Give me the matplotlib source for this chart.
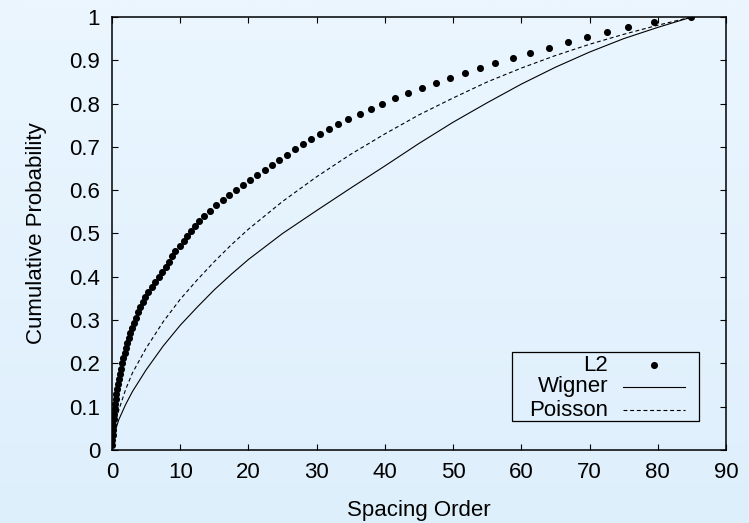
import matplotlib
matplotlib.use("Agg")
import matplotlib.pyplot as plt
import numpy as np
from matplotlib.patches import Rectangle
from matplotlib.ticker import FuncFormatter

plt.rcParams["font.family"] = ["Liberation Sans", "DejaVu Sans"]

# empirical CDF of the L2 spacing orders
l2_order = [
    0.00, 0.05, 0.09, 0.13, 0.18, 0.25, 0.32, 0.38, 0.45, 0.52,
    0.60, 0.75, 0.90, 1.05, 1.20, 1.35, 1.50, 1.65, 1.85, 2.05,
    2.25, 2.45, 2.70, 2.95, 3.20, 3.50, 3.80, 4.15, 4.50, 4.90,
    5.35, 5.85, 6.35, 6.90, 7.40, 7.90, 8.40, 8.80, 9.30, 9.90,
    10.5, 11.0, 11.6, 12.2, 12.8, 13.5, 14.3, 15.2, 16.2, 17.2,
    18.2, 19.25, 20.3, 21.3, 22.4, 23.4, 24.5, 25.6, 26.8, 28.0,
    29.2, 30.5, 31.8, 33.2, 34.6, 36.3, 37.9, 39.6, 41.5, 43.4,
    45.4, 47.5, 49.6, 51.7, 53.9, 56.2, 58.8, 61.3, 64.0, 66.8,
    69.6, 72.6, 75.6, 79.5, 84.9,
]
l2_prob = [
    0.0118, 0.0235, 0.0353, 0.0471, 0.0588, 0.0706, 0.0824, 0.0941, 0.1059, 0.1176,
    0.1294, 0.1412, 0.1529, 0.1647, 0.1765, 0.1882, 0.2000, 0.2118, 0.2235, 0.2353,
    0.2471, 0.2588, 0.2706, 0.2824, 0.2941, 0.3059, 0.3176, 0.3294, 0.3412, 0.3529,
    0.3647, 0.3765, 0.3882, 0.4000, 0.4118, 0.4235, 0.4353, 0.4471, 0.4588, 0.4706,
    0.4824, 0.4941, 0.5059, 0.5176, 0.5294, 0.5412, 0.5529, 0.5647, 0.5765, 0.5882,
    0.6000, 0.6118, 0.6235, 0.6353, 0.6471, 0.6588, 0.6706, 0.6824, 0.6941, 0.7059,
    0.7176, 0.7294, 0.7412, 0.7529, 0.7647, 0.7765, 0.7882, 0.8000, 0.8118, 0.8235,
    0.8353, 0.8471, 0.8588, 0.8706, 0.8824, 0.8941, 0.9059, 0.9176, 0.9294, 0.9412,
    0.9529, 0.9647, 0.9765, 0.9882, 1.0000,
]

# reference curves
curve_x = [0, 0.5, 1, 2, 3, 5, 7.5, 10, 12.5, 15, 17.5, 20, 25, 30, 35, 40, 45, 50,
           55, 60, 65, 70, 75, 80, 85]
wigner = [0.01, 0.045, 0.07, 0.105, 0.135, 0.185, 0.24, 0.288, 0.33, 0.37, 0.406, 0.44,
          0.50, 0.553, 0.605, 0.656, 0.708, 0.757, 0.802, 0.845, 0.884, 0.919, 0.95,
          0.976, 1.0]
poisson = [0.01, 0.065, 0.092, 0.14, 0.178, 0.235, 0.296, 0.348, 0.393, 0.435, 0.474,
           0.51, 0.574, 0.631, 0.683, 0.73, 0.774, 0.813, 0.85, 0.882, 0.911, 0.937,
           0.96, 0.981, 1.0]

x_ticks = list(range(0, 91, 10))
y_ticks = [i / 10 for i in range(11)]

FS = 16

fig = plt.figure(figsize=(7.49, 5.23), dpi=100)

# soft vertical gradient behind everything
bg = fig.add_axes([0, 0, 1, 1], zorder=-10)
top = np.array([235, 246, 255]) / 255
bot = np.array([222, 239, 252]) / 255
t = np.linspace(0, 1, 256)[:, None]
grad = top * (1 - t) + bot * t
bg.imshow(grad[:, None, :].repeat(2, axis=1), aspect="auto", extent=[0, 1, 0, 1])
bg.set_axis_off()

ax = fig.add_axes([0.1495, 0.1396, 0.8198, 0.8279])
ax.set_facecolor("none")

ax.plot(l2_order, l2_prob, "o", color="black", markersize=5.1, markeredgewidth=0)
ax.plot(curve_x, wigner, "-", color="black", linewidth=0.8)
ax.plot(curve_x, poisson, color="black", linewidth=0.8, dashes=(3.5, 2.5))

ax.set_xlim(0, 90)
ax.set_ylim(0, 1)
ax.set_xticks(x_ticks)
ax.set_yticks(y_ticks)
ax.yaxis.set_major_formatter(FuncFormatter(lambda v, p: f"{v:g}"))
ax.tick_params(direction="in", length=4.5, width=0.8, top=True, right=True,
               labelsize=FS, colors="black")
ax.tick_params(axis="x", pad=9)
ax.tick_params(axis="y", pad=8.5)
for s in ax.spines.values():
    s.set_linewidth(1.1)

ax.set_xlabel("Spacing Order", fontsize=FS, labelpad=12)
ax.set_ylabel("Cumulative Probability", fontsize=FS, labelpad=16)

# gnuplot-style key: labels right-aligned, samples to the right
ax.add_patch(Rectangle((0.651, 0.067), 0.305, 0.159, transform=ax.transAxes,
                       fill=False, edgecolor="black", linewidth=0.9))
rows = [0.196, 0.146, 0.092]
ax.text(0.808, rows[0], "L2", transform=ax.transAxes, ha="right", va="center", fontsize=FS)
ax.text(0.808, rows[1], "Wigner", transform=ax.transAxes, ha="right", va="center", fontsize=FS)
ax.text(0.808, rows[2], "Poisson", transform=ax.transAxes, ha="right", va="center", fontsize=FS)
ax.plot([0.883], [rows[0]], "o", color="black", markersize=5.1, markeredgewidth=0,
        transform=ax.transAxes)
ax.plot([0.832, 0.933], [rows[1]] * 2, "-", color="black", linewidth=0.8,
        transform=ax.transAxes)
ax.plot([0.832, 0.933], [rows[2]] * 2, color="black", linewidth=0.8, dashes=(3.5, 2.5),
        transform=ax.transAxes)

fig.savefig("out.png", dpi=100)
